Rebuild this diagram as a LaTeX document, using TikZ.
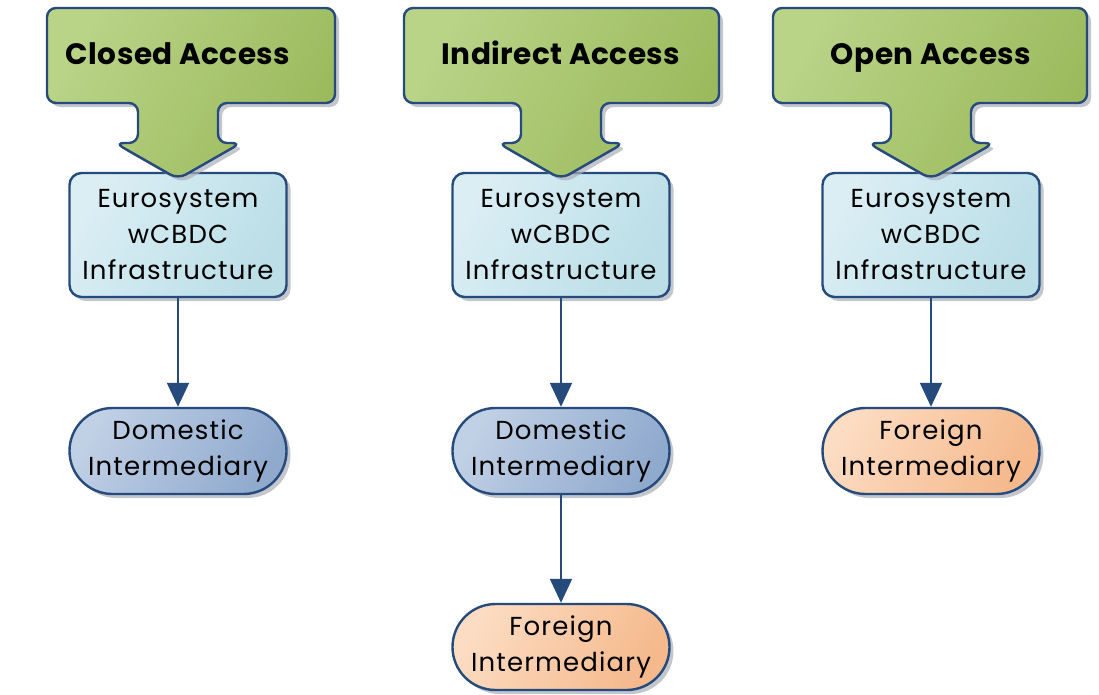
\documentclass[tikz,border=0pt]{standalone}
\usepackage{fontspec}
\setmainfont{Poppins}
\newfontfamily\bodyfont[LetterSpace=4.5]{Poppins}
\newfontfamily\headfont[LetterSpace=1.5]{Poppins}
\usetikzlibrary{shadows,arrows.meta}
\definecolor{edgeblue}{HTML}{264A7B}
\definecolor{greenA}{HTML}{B9D387}
\definecolor{greenB}{HTML}{9BBA5C}
\definecolor{euroA}{HTML}{DAEEF4}
\definecolor{euroB}{HTML}{BBDEE7}
\definecolor{domA}{HTML}{C0D0E5}
\definecolor{domB}{HTML}{90AACE}
\definecolor{forA}{HTML}{FCDCC2}
\definecolor{forB}{HTML}{F5B98C}
\definecolor{shadowgrey}{HTML}{A9AFB8}
\newcommand\accesstop[5]{% #1 left, #2 right, #3 stem centre, #4 name, #5 text
  \path[greenshape] (#1,8) -- (#2,8) -- (#2,103) -- ({#3+40},103) -- ({#3+40},143)
    -- ({#3+63},143) -- (#3,179) -- ({#3-63},143) -- ({#3-40},143) -- ({#3-40},103)
    -- (#1,103) -- cycle;
  \node[titletext] (#4) at (#3,64) {#5};
}
\begin{document}
\begin{tikzpicture}[x=1pt,y=-1pt,
  shadowed/.style={drop shadow={shadow xshift=4pt,shadow yshift=-4pt,fill=shadowgrey,opacity=0.7}},
  greenshape/.style={draw=edgeblue,line width=2.4pt,rounded corners=9pt,
    left color=greenA,right color=greenB,shading angle=60,shadowed},
  titletext/.style={font=\fontsize{29.5}{34}\selectfont\headfont\bfseries,inner sep=0pt,anchor=base},
  eurobox/.style={rectangle,rounded corners=12pt,draw=edgeblue,line width=2.4pt,
    minimum width=217pt,minimum height=124pt,inner sep=0pt,align=center,
    left color=euroA,right color=euroB,shading angle=60,shadowed,
    font=\fontsize{26}{36}\selectfont\bodyfont},
  pill/.style={rectangle,rounded corners=43pt,draw=edgeblue,line width=2.4pt,
    minimum width=217pt,minimum height=86pt,inner sep=0pt,align=center,shadowed,
    font=\fontsize{26}{36}\selectfont\bodyfont},
  domestic/.style={pill,left color=domA,right color=domB,shading angle=60},
  foreign/.style={pill,left color=forA,right color=forB,shading angle=60},
  conn/.style={draw=edgeblue,line width=2pt,-{Triangle[width=22pt,length=24pt]}}
]
\useasboundingbox (0,0) rectangle (1099,694);

% column 1
\node[eurobox] (e1) at (178,235) {Eurosystem\\wCBDC\\Infrastructure};
\node[domestic] (d1) at (178,451) {Domestic\\Intermediary};
\accesstop{47}{335}{178}{t1}{Closed Access}
\draw[conn] (e1) -- (d1);

% column 2
\node[eurobox] (e2) at (561,235) {Eurosystem\\wCBDC\\Infrastructure};
\node[domestic] (d2) at (561,451) {Domestic\\Intermediary};
\node[foreign] (f2) at (561,647) {Foreign\\Intermediary};
\accesstop{404}{719}{561}{t2}{Indirect Access}
\draw[conn] (e2) -- (d2);
\draw[conn] (d2) -- (f2);

% column 3
\node[eurobox] (e3) at (931,235) {Eurosystem\\wCBDC\\Infrastructure};
\node[foreign] (f3) at (931,451) {Foreign\\Intermediary};
\accesstop{773}{1087}{931}{t3}{Open Access}
\draw[conn] (e3) -- (f3);
\end{tikzpicture}
\end{document}
